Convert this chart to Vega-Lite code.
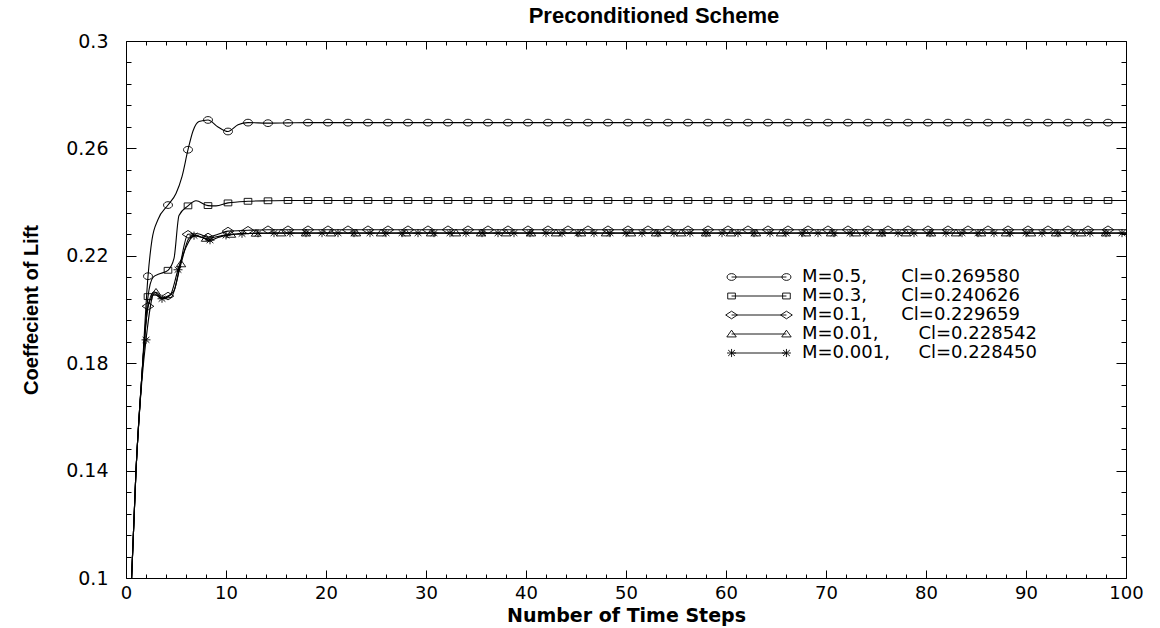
{
 "$schema": "https://vega.github.io/schema/vega-lite/v6.json",
 "width": 1000, "height": 537,
 "autosize": {"type": "none"},
 "padding": {"left": 126, "top": 41, "right": 34, "bottom": 50},
 "background": "white",
 "title": {"text": "Preconditioned Scheme", "font": "Liberation Sans", "fontSize": 22, "fontWeight": "bold", "color": "black", "anchor": "middle", "offset": 4, "dx": 28},
 "config": {"view": {"stroke": null}, "axis": {"grid": false}},
 "data": {"values": [
  {"s":"a","t":0.45,"v":0.09,"m":0},{"s":"a","t":1,"v":0.14,"m":0},{"s":"a","t":1.6,"v":0.176,"m":0},{"s":"a","t":2.2,"v":0.2124,"m":1},{"s":"a","t":2.6,"v":0.226,"m":0},{"s":"a","t":3.2,"v":0.2335,"m":0},{"s":"a","t":4.2,"v":0.2389,"m":1},{"s":"a","t":5,"v":0.2432,"m":0},{"s":"a","t":5.6,"v":0.2495,"m":0},{"s":"a","t":6.2,"v":0.2595,"m":1},{"s":"a","t":6.7,"v":0.2665,"m":0},{"s":"a","t":7.3,"v":0.27,"m":0},{"s":"a","t":8.2,"v":0.2706,"m":1},{"s":"a","t":9.2,"v":0.268,"m":0},{"s":"a","t":10.2,"v":0.2663,"m":1},{"s":"a","t":11.2,"v":0.2688,"m":0},{"s":"a","t":12.2,"v":0.2696,"m":1},{"s":"a","t":14.2,"v":0.2694,"m":1},{"s":"a","t":16.2,"v":0.2695,"m":1},
  {"s":"a","t":18.2,"v":0.2696,"m":1},{"s":"a","t":20.2,"v":0.2696,"m":1},{"s":"a","t":22.2,"v":0.2696,"m":1},{"s":"a","t":24.2,"v":0.2696,"m":1},{"s":"a","t":26.2,"v":0.2696,"m":1},{"s":"a","t":28.2,"v":0.2696,"m":1},{"s":"a","t":30.2,"v":0.2696,"m":1},{"s":"a","t":32.2,"v":0.2696,"m":1},{"s":"a","t":34.2,"v":0.2696,"m":1},{"s":"a","t":36.2,"v":0.2696,"m":1},{"s":"a","t":38.2,"v":0.2696,"m":1},{"s":"a","t":40.2,"v":0.2696,"m":1},{"s":"a","t":42.2,"v":0.2696,"m":1},{"s":"a","t":44.2,"v":0.2696,"m":1},{"s":"a","t":46.2,"v":0.2696,"m":1},{"s":"a","t":48.2,"v":0.2696,"m":1},{"s":"a","t":50.2,"v":0.2696,"m":1},{"s":"a","t":52.2,"v":0.2696,"m":1},{"s":"a","t":54.2,"v":0.2696,"m":1},{"s":"a","t":56.2,"v":0.2696,"m":1},{"s":"a","t":58.2,"v":0.2696,"m":1},{"s":"a","t":60.2,"v":0.2696,"m":1},{"s":"a","t":62.2,"v":0.2696,"m":1},{"s":"a","t":64.2,"v":0.2696,"m":1},{"s":"a","t":66.2,"v":0.2696,"m":1},{"s":"a","t":68.2,"v":0.2696,"m":1},{"s":"a","t":70.2,"v":0.2696,"m":1},{"s":"a","t":72.2,"v":0.2696,"m":1},{"s":"a","t":74.2,"v":0.2696,"m":1},{"s":"a","t":76.2,"v":0.2696,"m":1},{"s":"a","t":78.2,"v":0.2696,"m":1},{"s":"a","t":80.2,"v":0.2696,"m":1},{"s":"a","t":82.2,"v":0.2696,"m":1},{"s":"a","t":84.2,"v":0.2696,"m":1},{"s":"a","t":86.2,"v":0.2696,"m":1},{"s":"a","t":88.2,"v":0.2696,"m":1},{"s":"a","t":90.2,"v":0.2696,"m":1},{"s":"a","t":92.2,"v":0.2696,"m":1},{"s":"a","t":94.2,"v":0.2696,"m":1},{"s":"a","t":96.2,"v":0.2696,"m":1},{"s":"a","t":98.2,"v":0.2696,"m":1},{"s":"a","t":100,"v":0.2696,"m":0},

  {"s":"b","t":0.45,"v":0.09,"m":0},{"s":"b","t":1,"v":0.14,"m":0},{"s":"b","t":1.6,"v":0.176,"m":0},{"s":"b","t":2.2,"v":0.2048,"m":1},{"s":"b","t":2.7,"v":0.212,"m":0},{"s":"b","t":3.3,"v":0.2132,"m":0},{"s":"b","t":4.2,"v":0.2146,"m":1},{"s":"b","t":4.8,"v":0.219,"m":0},{"s":"b","t":5.3,"v":0.235,"m":0},{"s":"b","t":6.2,"v":0.2386,"m":1},{"s":"b","t":7,"v":0.2405,"m":0},{"s":"b","t":8.2,"v":0.2387,"m":1},{"s":"b","t":9,"v":0.2386,"m":0},{"s":"b","t":10.2,"v":0.2397,"m":1},{"s":"b","t":12.2,"v":0.2403,"m":1},{"s":"b","t":14.2,"v":0.2405,"m":1},
  {"s":"b","t":16.2,"v":0.2406,"m":1},{"s":"b","t":18.2,"v":0.2406,"m":1},{"s":"b","t":20.2,"v":0.2406,"m":1},{"s":"b","t":22.2,"v":0.2406,"m":1},{"s":"b","t":24.2,"v":0.2406,"m":1},{"s":"b","t":26.2,"v":0.2406,"m":1},{"s":"b","t":28.2,"v":0.2406,"m":1},{"s":"b","t":30.2,"v":0.2406,"m":1},{"s":"b","t":32.2,"v":0.2406,"m":1},{"s":"b","t":34.2,"v":0.2406,"m":1},{"s":"b","t":36.2,"v":0.2406,"m":1},{"s":"b","t":38.2,"v":0.2406,"m":1},{"s":"b","t":40.2,"v":0.2406,"m":1},{"s":"b","t":42.2,"v":0.2406,"m":1},{"s":"b","t":44.2,"v":0.2406,"m":1},{"s":"b","t":46.2,"v":0.2406,"m":1},{"s":"b","t":48.2,"v":0.2406,"m":1},{"s":"b","t":50.2,"v":0.2406,"m":1},{"s":"b","t":52.2,"v":0.2406,"m":1},{"s":"b","t":54.2,"v":0.2406,"m":1},{"s":"b","t":56.2,"v":0.2406,"m":1},{"s":"b","t":58.2,"v":0.2406,"m":1},{"s":"b","t":60.2,"v":0.2406,"m":1},{"s":"b","t":62.2,"v":0.2406,"m":1},{"s":"b","t":64.2,"v":0.2406,"m":1},{"s":"b","t":66.2,"v":0.2406,"m":1},{"s":"b","t":68.2,"v":0.2406,"m":1},{"s":"b","t":70.2,"v":0.2406,"m":1},{"s":"b","t":72.2,"v":0.2406,"m":1},{"s":"b","t":74.2,"v":0.2406,"m":1},{"s":"b","t":76.2,"v":0.2406,"m":1},{"s":"b","t":78.2,"v":0.2406,"m":1},{"s":"b","t":80.2,"v":0.2406,"m":1},{"s":"b","t":82.2,"v":0.2406,"m":1},{"s":"b","t":84.2,"v":0.2406,"m":1},{"s":"b","t":86.2,"v":0.2406,"m":1},{"s":"b","t":88.2,"v":0.2406,"m":1},{"s":"b","t":90.2,"v":0.2406,"m":1},{"s":"b","t":92.2,"v":0.2406,"m":1},{"s":"b","t":94.2,"v":0.2406,"m":1},{"s":"b","t":96.2,"v":0.2406,"m":1},{"s":"b","t":98.2,"v":0.2406,"m":1},{"s":"b","t":100,"v":0.2406,"m":0},

  {"s":"c","t":0.45,"v":0.09,"m":0},{"s":"c","t":1,"v":0.14,"m":0},{"s":"c","t":1.6,"v":0.176,"m":0},{"s":"c","t":2.2,"v":0.2012,"m":1},{"s":"c","t":2.8,"v":0.2066,"m":0},{"s":"c","t":3.5,"v":0.2042,"m":0},{"s":"c","t":4.2,"v":0.205,"m":1},{"s":"c","t":4.8,"v":0.207,"m":0},{"s":"c","t":5.4,"v":0.2165,"m":0},{"s":"c","t":6.2,"v":0.228,"m":1},{"s":"c","t":7.2,"v":0.2282,"m":0},{"s":"c","t":8.2,"v":0.227,"m":1},{"s":"c","t":9.2,"v":0.228,"m":0},{"s":"c","t":10.2,"v":0.2292,"m":1},{"s":"c","t":12.2,"v":0.2295,"m":1},
  {"s":"c","t":14.2,"v":0.2297,"m":1},{"s":"c","t":16.2,"v":0.2297,"m":1},{"s":"c","t":18.2,"v":0.2297,"m":1},{"s":"c","t":20.2,"v":0.2297,"m":1},{"s":"c","t":22.2,"v":0.2297,"m":1},{"s":"c","t":24.2,"v":0.2297,"m":1},{"s":"c","t":26.2,"v":0.2297,"m":1},{"s":"c","t":28.2,"v":0.2297,"m":1},{"s":"c","t":30.2,"v":0.2297,"m":1},{"s":"c","t":32.2,"v":0.2297,"m":1},{"s":"c","t":34.2,"v":0.2297,"m":1},{"s":"c","t":36.2,"v":0.2297,"m":1},{"s":"c","t":38.2,"v":0.2297,"m":1},{"s":"c","t":40.2,"v":0.2297,"m":1},{"s":"c","t":42.2,"v":0.2297,"m":1},{"s":"c","t":44.2,"v":0.2297,"m":1},{"s":"c","t":46.2,"v":0.2297,"m":1},{"s":"c","t":48.2,"v":0.2297,"m":1},{"s":"c","t":50.2,"v":0.2297,"m":1},{"s":"c","t":52.2,"v":0.2297,"m":1},{"s":"c","t":54.2,"v":0.2297,"m":1},{"s":"c","t":56.2,"v":0.2297,"m":1},{"s":"c","t":58.2,"v":0.2297,"m":1},{"s":"c","t":60.2,"v":0.2297,"m":1},{"s":"c","t":62.2,"v":0.2297,"m":1},{"s":"c","t":64.2,"v":0.2297,"m":1},{"s":"c","t":66.2,"v":0.2297,"m":1},{"s":"c","t":68.2,"v":0.2297,"m":1},{"s":"c","t":70.2,"v":0.2297,"m":1},{"s":"c","t":72.2,"v":0.2297,"m":1},{"s":"c","t":74.2,"v":0.2297,"m":1},{"s":"c","t":76.2,"v":0.2297,"m":1},{"s":"c","t":78.2,"v":0.2297,"m":1},{"s":"c","t":80.2,"v":0.2297,"m":1},{"s":"c","t":82.2,"v":0.2297,"m":1},{"s":"c","t":84.2,"v":0.2297,"m":1},{"s":"c","t":86.2,"v":0.2297,"m":1},{"s":"c","t":88.2,"v":0.2297,"m":1},{"s":"c","t":90.2,"v":0.2297,"m":1},{"s":"c","t":92.2,"v":0.2297,"m":1},{"s":"c","t":94.2,"v":0.2297,"m":1},{"s":"c","t":96.2,"v":0.2297,"m":1},{"s":"c","t":98.2,"v":0.2297,"m":1},{"s":"c","t":100,"v":0.2297,"m":0},

  {"s":"d","t":0.45,"v":0.09,"m":0},{"s":"d","t":1,"v":0.14,"m":0},{"s":"d","t":1.6,"v":0.176,"m":0},{"s":"d","t":2.2,"v":0.201,"m":0},{"s":"d","t":3,"v":0.2064,"m":1},{"s":"d","t":3.7,"v":0.2042,"m":0},{"s":"d","t":4.5,"v":0.2045,"m":0},{"s":"d","t":5.5,"v":0.217,"m":1},{"s":"d","t":6.3,"v":0.2265,"m":0},{"s":"d","t":7,"v":0.2275,"m":0},{"s":"d","t":8,"v":0.2265,"m":1},{"s":"d","t":9.2,"v":0.2272,"m":0},{"s":"d","t":10.5,"v":0.228,"m":1},{"s":"d","t":13,"v":0.2284,"m":1},
  {"s":"d","t":15.5,"v":0.2285,"m":1},{"s":"d","t":18,"v":0.2285,"m":1},{"s":"d","t":20.5,"v":0.2285,"m":1},{"s":"d","t":23,"v":0.2285,"m":1},{"s":"d","t":25.5,"v":0.2285,"m":1},{"s":"d","t":28,"v":0.2285,"m":1},{"s":"d","t":30.5,"v":0.2285,"m":1},{"s":"d","t":33,"v":0.2285,"m":1},{"s":"d","t":35.5,"v":0.2285,"m":1},{"s":"d","t":38,"v":0.2285,"m":1},{"s":"d","t":40.5,"v":0.2285,"m":1},{"s":"d","t":43,"v":0.2285,"m":1},{"s":"d","t":45.5,"v":0.2285,"m":1},{"s":"d","t":48,"v":0.2285,"m":1},{"s":"d","t":50.5,"v":0.2285,"m":1},{"s":"d","t":53,"v":0.2285,"m":1},{"s":"d","t":55.5,"v":0.2285,"m":1},{"s":"d","t":58,"v":0.2285,"m":1},{"s":"d","t":60.5,"v":0.2285,"m":1},{"s":"d","t":63,"v":0.2285,"m":1},{"s":"d","t":65.5,"v":0.2285,"m":1},{"s":"d","t":68,"v":0.2285,"m":1},{"s":"d","t":70.5,"v":0.2285,"m":1},{"s":"d","t":73,"v":0.2285,"m":1},{"s":"d","t":75.5,"v":0.2285,"m":1},{"s":"d","t":78,"v":0.2285,"m":1},{"s":"d","t":80.5,"v":0.2285,"m":1},{"s":"d","t":83,"v":0.2285,"m":1},{"s":"d","t":85.5,"v":0.2285,"m":1},{"s":"d","t":88,"v":0.2285,"m":1},{"s":"d","t":90.5,"v":0.2285,"m":1},{"s":"d","t":93,"v":0.2285,"m":1},{"s":"d","t":95.5,"v":0.2285,"m":1},{"s":"d","t":98,"v":0.2285,"m":1},{"s":"d","t":100,"v":0.2285,"m":0},

  {"s":"e","t":0.45,"v":0.09,"m":0},{"s":"e","t":1,"v":0.14,"m":0},{"s":"e","t":1.6,"v":0.174,"m":0},{"s":"e","t":2,"v":0.1887,"m":1},{"s":"e","t":2.8,"v":0.2058,"m":0},{"s":"e","t":3.6,"v":0.204,"m":1},{"s":"e","t":4.4,"v":0.2052,"m":0},{"s":"e","t":5.2,"v":0.2148,"m":1},{"s":"e","t":6,"v":0.2232,"m":0},{"s":"e","t":6.8,"v":0.2275,"m":1},{"s":"e","t":7.6,"v":0.2268,"m":0},{"s":"e","t":8.4,"v":0.2258,"m":1},{"s":"e","t":9.2,"v":0.2268,"m":0},{"s":"e","t":10,"v":0.2276,"m":1},{"s":"e","t":11.6,"v":0.2282,"m":1},{"s":"e","t":13.2,"v":0.2284,"m":1},
  {"s":"e","t":14.8,"v":0.22845,"m":1},{"s":"e","t":16.4,"v":0.22845,"m":1},{"s":"e","t":18,"v":0.22845,"m":1},{"s":"e","t":19.6,"v":0.22845,"m":1},{"s":"e","t":21.2,"v":0.22845,"m":1},{"s":"e","t":22.8,"v":0.22845,"m":1},{"s":"e","t":24.4,"v":0.22845,"m":1},{"s":"e","t":26,"v":0.22845,"m":1},{"s":"e","t":27.6,"v":0.22845,"m":1},{"s":"e","t":29.2,"v":0.22845,"m":1},{"s":"e","t":30.8,"v":0.22845,"m":1},{"s":"e","t":32.4,"v":0.22845,"m":1},{"s":"e","t":34,"v":0.22845,"m":1},{"s":"e","t":35.6,"v":0.22845,"m":1},{"s":"e","t":37.2,"v":0.22845,"m":1},{"s":"e","t":38.8,"v":0.22845,"m":1},{"s":"e","t":40.4,"v":0.22845,"m":1},{"s":"e","t":42,"v":0.22845,"m":1},{"s":"e","t":43.6,"v":0.22845,"m":1},{"s":"e","t":45.2,"v":0.22845,"m":1},{"s":"e","t":46.8,"v":0.22845,"m":1},{"s":"e","t":48.4,"v":0.22845,"m":1},{"s":"e","t":50,"v":0.22845,"m":1},{"s":"e","t":51.6,"v":0.22845,"m":1},{"s":"e","t":53.2,"v":0.22845,"m":1},{"s":"e","t":54.8,"v":0.22845,"m":1},{"s":"e","t":56.4,"v":0.22845,"m":1},{"s":"e","t":58,"v":0.22845,"m":1},{"s":"e","t":59.6,"v":0.22845,"m":1},{"s":"e","t":61.2,"v":0.22845,"m":1},{"s":"e","t":62.8,"v":0.22845,"m":1},{"s":"e","t":64.4,"v":0.22845,"m":1},{"s":"e","t":66,"v":0.22845,"m":1},{"s":"e","t":67.6,"v":0.22845,"m":1},{"s":"e","t":69.2,"v":0.22845,"m":1},{"s":"e","t":70.8,"v":0.22845,"m":1},{"s":"e","t":72.4,"v":0.22845,"m":1},{"s":"e","t":74,"v":0.22845,"m":1},{"s":"e","t":75.6,"v":0.22845,"m":1},{"s":"e","t":77.2,"v":0.22845,"m":1},{"s":"e","t":78.8,"v":0.22845,"m":1},{"s":"e","t":80.4,"v":0.22845,"m":1},{"s":"e","t":82,"v":0.22845,"m":1},{"s":"e","t":83.6,"v":0.22845,"m":1},{"s":"e","t":85.2,"v":0.22845,"m":1},{"s":"e","t":86.8,"v":0.22845,"m":1},{"s":"e","t":88.4,"v":0.22845,"m":1},{"s":"e","t":90,"v":0.22845,"m":1},{"s":"e","t":91.6,"v":0.22845,"m":1},{"s":"e","t":93.2,"v":0.22845,"m":1},{"s":"e","t":94.8,"v":0.22845,"m":1},{"s":"e","t":96.4,"v":0.22845,"m":1},{"s":"e","t":98,"v":0.22845,"m":1},{"s":"e","t":99.6,"v":0.22845,"m":1},{"s":"e","t":100,"v":0.22845,"m":0}
 ]},
 "layer": [
  {
   "mark": {"type": "line", "color": "black", "strokeWidth": 1.1, "interpolate": "monotone", "clip": true},
   "encoding": {
    "x": {"field": "t", "type": "quantitative", "scale": {"domain": [0, 100], "nice": false, "zero": false},
     "axis": {"orient": "bottom", "values": [0,2,4,6,8,10,12,14,16,18,20,22,24,26,28,30,32,34,36,38,40,42,44,46,48,50,52,54,56,58,60,62,64,66,68,70,72,74,76,78,80,82,84,86,88,90,92,94,96,98,100],
      "tickSize": {"condition": {"test": "datum.value % 10 === 0", "value": -8}, "value": -4},
      "labelExpr": "datum.value % 10 === 0 ? datum.label : ''",
      "labelPadding": 14, "labelFlush": false, "labelOverlap": false, "labelBound": false,
      "labelFont": "DejaVu Sans", "labelFontSize": 18, "labelColor": "black",
      "domainColor": "black", "tickColor": "black", "tickWidth": 1,
      "title": "Number of Time Steps", "titleFont": "DejaVu Sans", "titleFontSize": 19, "titleFontWeight": "bold", "titleColor": "black", "titlePadding": 0}},
    "y": {"field": "v", "type": "quantitative", "scale": {"domain": [0.1, 0.3], "nice": false, "zero": false},
     "axis": {"orient": "left", "values": [0.1,0.108,0.116,0.124,0.132,0.14,0.148,0.156,0.164,0.172,0.18,0.188,0.196,0.204,0.212,0.22,0.228,0.236,0.244,0.252,0.26,0.268,0.276,0.284,0.292,0.3],
      "tickSize": {"condition": {"test": "round(datum.value*1000) % 40 === 20", "value": -10}, "value": -5},
      "labelExpr": "round(datum.value*1000) % 40 === 20 ? toString(round(datum.value*100)/100) : ''",
      "labelPadding": 28, "labelFlush": false, "labelOverlap": false, "labelBound": false,
      "labelFont": "DejaVu Sans", "labelFontSize": 19, "labelColor": "black",
      "domainColor": "black", "tickColor": "black", "tickWidth": 1,
      "title": "Coeffecient of Lift", "titleFont": "Liberation Sans", "titleFontSize": 20, "titleFontWeight": "bold", "titleColor": "black", "titlePadding": 24}},
    "detail": {"field": "s", "type": "nominal"}
   }
  },
  {
   "transform": [{"filter": "datum.m === 1"}],
   "mark": {"type": "point", "filled": false, "color": "black", "strokeWidth": 0.9, "size": 81, "opacity": 1},
   "encoding": {
    "x": {"field": "t", "type": "quantitative",
     "axis": {"orient": "top", "values": [0,2,4,6,8,10,12,14,16,18,20,22,24,26,28,30,32,34,36,38,40,42,44,46,48,50,52,54,56,58,60,62,64,66,68,70,72,74,76,78,80,82,84,86,88,90,92,94,96,98,100],
      "tickSize": {"condition": {"test": "datum.value % 10 === 0", "value": -8}, "value": -4},
      "labels": false, "title": null, "domainColor": "black", "tickColor": "black", "tickWidth": 1}},
    "y": {"field": "v", "type": "quantitative",
     "axis": {"orient": "right", "values": [0.1,0.108,0.116,0.124,0.132,0.14,0.148,0.156,0.164,0.172,0.18,0.188,0.196,0.204,0.212,0.22,0.228,0.236,0.244,0.252,0.26,0.268,0.276,0.284,0.292,0.3],
      "tickSize": {"condition": {"test": "round(datum.value*1000) % 40 === 20", "value": -10}, "value": -5},
      "labels": false, "title": null, "domainColor": "black", "tickColor": "black", "tickWidth": 1}},
    "shape": {"field": "s", "type": "nominal", "legend": null,
     "scale": {"domain": ["a","b","c","d","e"],
      "range": ["M-1,0A1,0.75 0 1,1 1,0A1,0.75 0 1,1 -1,0Z", "M-0.85,-0.65H0.85V0.65H-0.85Z", "M-1.3,0L0,-0.85L1.3,0L0,0.85Z", "M-1.05,0.65L0,-0.85L1.05,0.65Z", "M-1,0H1M0,-0.9V0.9M-0.75,-0.65L0.75,0.65M-0.75,0.65L0.75,-0.65"]}}
   }
  },
  {
   "transform": [{"filter": "datum.t === 100"}],
   "mark": {"type": "point", "filled": false, "color": "black", "strokeWidth": 0.9, "size": 81, "opacity": 0},
   "encoding": {
    "x": {"field": "t", "type": "quantitative", "axis": null},
    "y": {"field": "v", "type": "quantitative", "axis": null},
    "shape": {"field": "s", "type": "nominal",
     "scale": {"domain": ["a","b","c","d","e"],
      "range": ["M-6.1,0H6.1M-7.1,0A1,0.75 0 1,1 -5.1,0A1,0.75 0 1,1 -7.1,0ZM5.1,0A1,0.75 0 1,1 7.1,0A1,0.75 0 1,1 5.1,0Z", "M-6.1,0H6.1M-6.95,-0.65H-5.25V0.65H-6.95ZM5.25,-0.65H6.95V0.65H5.25Z", "M-6.1,0H6.1M-7.4,0L-6.1,-0.85L-4.8,0L-6.1,0.85ZM4.8,0L6.1,-0.85L7.4,0L6.1,0.85Z", "M-6.1,0H6.1M-7.15,0.65L-6.1,-0.85L-5.05,0.65ZM5.05,0.65L6.1,-0.85L7.15,0.65Z", "M-6.1,0H6.1M-7.1,0H-5.1M-6.1,-0.9V0.9M-6.85,-0.65L-5.35,0.65M-6.85,0.65L-5.35,-0.65M5.1,0H7.1M6.1,-0.9V0.9M5.35,-0.65L6.85,0.65M5.35,0.65L6.85,-0.65"]},
     "legend": {"orient": "none", "legendX": 624, "legendY": 227, "title": null, "padding": 0, "rowPadding": 1,
      "symbolSize": 81, "symbolOpacity": 1, "symbolStrokeColor": "black", "symbolFillColor": "transparent", "symbolStrokeWidth": 0.9,
      "labelOffset": 34, "labelLimit": 500, "labelFont": "DejaVu Sans", "labelFontSize": 18, "labelColor": "black",
      "labelExpr": "datum.value === 'a' ? 'M=0.5,\u00a0\u00a0\u00a0\u00a0\u00a0\u00a0Cl=0.269580' : datum.value === 'b' ? 'M=0.3,\u00a0\u00a0\u00a0\u00a0\u00a0\u00a0Cl=0.240626' : datum.value === 'c' ? 'M=0.1,\u00a0\u00a0\u00a0\u00a0\u00a0\u00a0Cl=0.229659' : datum.value === 'd' ? 'M=0.01,\u00a0\u00a0\u00a0\u00a0\u00a0\u00a0\u00a0Cl=0.228542' : 'M=0.001,\u00a0\u00a0\u00a0\u00a0\u00a0Cl=0.228450'"}
    }
   }
  }
 ],
 "resolve": {"axis": {"x": "independent", "y": "independent"}, "scale": {"shape": "independent"}, "legend": {"shape": "independent"}}
}
